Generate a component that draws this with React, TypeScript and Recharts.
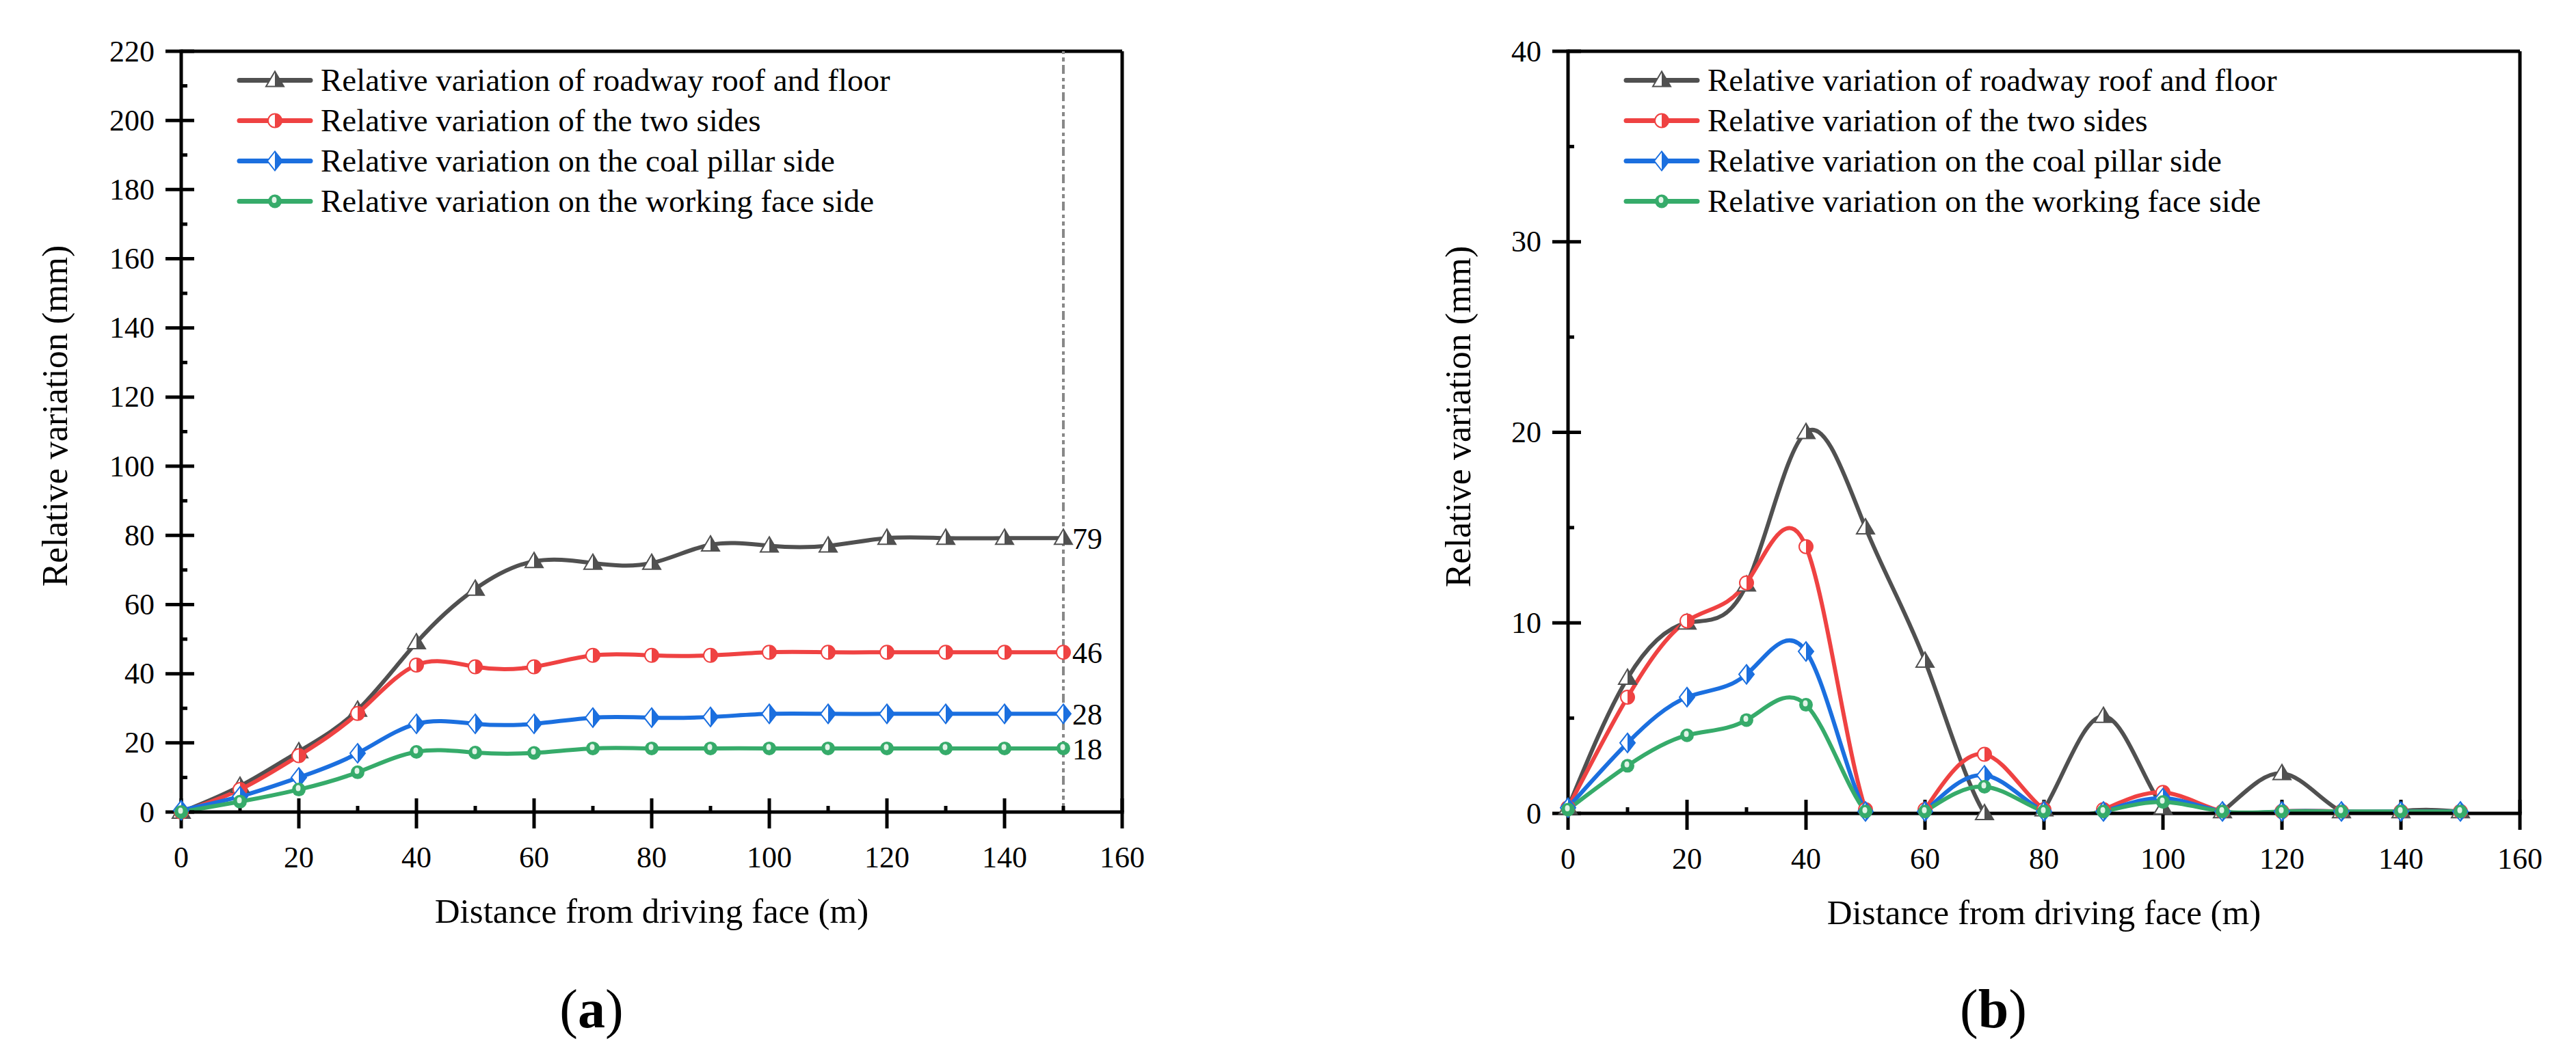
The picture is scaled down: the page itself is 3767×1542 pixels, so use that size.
import React from 'react';
import { LineChart, Line, XAxis, YAxis, ReferenceLine, ReferenceDot, Legend, Label } from 'recharts';

const FONT = '"Liberation Serif", "Times New Roman", serif';

// distance from driving face (m)
const distance = [0, 10, 20, 30, 40, 50, 60, 70, 80, 90, 100, 110, 120, 130, 140, 150];
const xTicks = [0, 10, 20, 30, 40, 50, 60, 70, 80, 90, 100, 110, 120, 130, 140, 150, 160];

// (a) relative variation (mm)
const roofFloorA = [0, 7.5, 17.5, 29.5, 49, 64.5, 72.5, 72, 72, 77.3, 77, 77, 79.2, 79.2, 79.2, 79.2];
const twoSidesA = [0, 6.5, 16.3, 28.5, 42.5, 42, 42, 45.3, 45.3, 45.3, 46.2, 46.2, 46.2, 46.2, 46.2, 46.2];
const pillarSideA = [0.5, 4.5, 10, 17, 25.5, 25.5, 25.5, 27.3, 27.3, 27.5, 28.4, 28.4, 28.4, 28.4, 28.4, 28.4];
const faceSideA = [0, 3, 6.5, 11.5, 17.4, 17.2, 17.1, 18.4, 18.4, 18.4, 18.4, 18.4, 18.4, 18.4, 18.4, 18.4];
const yTicksA = [0, 10, 20, 30, 40, 50, 60, 70, 80, 90, 100, 110, 120, 130, 140, 150, 160, 170, 180, 190, 200, 210, 220];

// (b) relative variation (mm)
const roofFloorB = [0.3, 7.1, 10, 12, 20, 15, 8, 0, 0.2, 5.1, 0.3, 0.1, 2.1, 0.1, 0.1, 0.1];
const twoSidesB = [0.3, 6.1, 10.1, 12.1, 14, 0.2, 0.2, 3.1, 0.2, 0.2, 1.1, 0.1, 0.1, 0.1, 0.1, 0.1];
const pillarSideB = [0.3, 3.7, 6.1, 7.3, 8.5, 0.1, 0.1, 2, 0.1, 0.1, 0.8, 0.1, 0.1, 0.1, 0.1, 0.1];
const faceSideB = [0.2, 2.5, 4.1, 4.9, 5.7, 0.1, 0.1, 1.4, 0.1, 0.1, 0.6, 0.1, 0.1, 0.1, 0.1, 0.1];
const yTicksB = [0, 5, 10, 15, 20, 25, 30, 35, 40];

const series = [
  { key: 'roof', name: 'Relative variation of roadway roof and floor', color: '#505050', marker: 'triangle' },
  { key: 'sides', name: 'Relative variation of the two sides', color: '#ef4242', marker: 'halfCircle' },
  { key: 'pillar', name: 'Relative variation on the coal pillar side', color: '#1b6fdf', marker: 'diamond' },
  { key: 'face', name: 'Relative variation on the working face side', color: '#36ab6a', marker: 'ball' },
];

const rowsA = distance.map((d, i) => ({ d, roof: roofFloorA[i], sides: twoSidesA[i], pillar: pillarSideA[i], face: faceSideA[i] }));
const rowsB = distance.map((d, i) => ({ d, roof: roofFloorB[i], sides: twoSidesB[i], pillar: pillarSideB[i], face: faceSideB[i] }));

const CHART_H = 1420;
const Y_AXIS_W = 120;
const X_AXIS_H = 100;
const axisStyle = { stroke: '#000', strokeWidth: 5, strokeLinecap: 'square' as const };

function Marker({ cx, cy, kind, color }: { cx: number; cy: number; kind: string; color: string }) {
  if (kind === 'triangle') {
    return (
      <g>
        <path d={`M${cx} ${cy - 13} L${cx - 13} ${cy + 9} L${cx} ${cy + 9} Z`} fill="#fff" />
        <path d={`M${cx} ${cy - 13} L${cx} ${cy + 9} L${cx + 13} ${cy + 9} Z`} fill={color} />
        <path d={`M${cx} ${cy - 13} L${cx - 13} ${cy + 9} L${cx + 13} ${cy + 9} Z`} fill="none" stroke={color} strokeWidth={2} />
      </g>
    );
  }
  if (kind === 'halfCircle') {
    const r = 10;
    return (
      <g>
        <circle cx={cx} cy={cy} r={r} fill="#fff" stroke={color} strokeWidth={2} />
        <path d={`M${cx} ${cy - r} A${r} ${r} 0 0 1 ${cx} ${cy + r} Z`} fill={color} />
      </g>
    );
  }
  if (kind === 'diamond') {
    return (
      <g>
        <path d={`M${cx} ${cy - 14} L${cx - 11} ${cy} L${cx} ${cy + 14} L${cx + 11} ${cy} Z`} fill="#fff" stroke={color} strokeWidth={2} />
        <path d={`M${cx} ${cy - 14} L${cx + 11} ${cy} L${cx} ${cy + 14} Z`} fill={color} />
      </g>
    );
  }
  return (
    <g>
      <circle cx={cx} cy={cy} r={10} fill={color} />
      <ellipse cx={cx - 1} cy={cy - 2} rx={3.5} ry={4.5} fill="#e2f4e8" />
    </g>
  );
}

const XTick = (props: any) => {
  const { x, y, payload } = props;
  const major = payload.value % 20 === 0;
  return (
    <g>
      <line x1={x} x2={x} y1={major ? y - 22 : y - 11} y2={major ? y + 22 : y} stroke="#000" strokeWidth={5} />
      {major && (
        <text x={x} y={y + 79} textAnchor="middle" fontSize={44} fontFamily={FONT} fill="#000">
          {payload.value}
        </text>
      )}
    </g>
  );
};

const makeYTick = (labelStep: number) => (props: any) => {
  const { x, y, payload } = props;
  const major = payload.value % labelStep === 0;
  return (
    <g>
      <line x1={major ? x - 21 : x} x2={major ? x + 21 : x + 11} y1={y} y2={y} stroke="#000" strokeWidth={5} />
      {major && (
        <text x={x - 37} y={y + 14.5} textAnchor="end" fontSize={44} fontFamily={FONT} fill="#000">
          {payload.value}
        </text>
      )}
    </g>
  );
};

const makeYTitle = (gap: number) => (props: any) => {
  const vb = props.viewBox || {};
  const cx = vb.x + vb.width - gap;
  const cy = vb.y + vb.height / 2 - 23;
  return (
    <text x={cx} y={cy} transform={`rotate(-90 ${cx} ${cy})`} textAnchor="middle" dominantBaseline="central" fontSize={52} fontFamily={FONT} fill="#000">
      Relative variation (mm)
    </text>
  );
};

const LegendBox = () => (
  <div style={{ fontFamily: FONT, fontSize: 47, color: '#000' }}>
    {series.map((s) => (
      <div key={s.key} style={{ display: 'flex', alignItems: 'center', height: 59 }}>
        <svg width={112} height={59} style={{ overflow: 'visible' }}>
          <line x1={4} x2={108} y1={29.5} y2={29.5} stroke={s.color} strokeWidth={7} strokeLinecap="round" />
          <Marker cx={56} cy={29.5} kind={s.marker} color={s.color} />
        </svg>
        <span style={{ marginLeft: 11, whiteSpace: 'nowrap', lineHeight: '59px' }}>{s.name}</span>
      </div>
    ))}
  </div>
);

type PanelProps = {
  left: number;
  width: number;
  margin: { top: number; right: number; bottom: number; left: number };
  rows: any[];
  yMax: number;
  yTicks: number[];
  yLabelStep: number;
  yTitleGap: number;
  endMarks: boolean;
};

function Panel({ left, width, margin, rows, yMax, yTicks, yLabelStep, yTitleGap, endMarks }: PanelProps) {
  const overlayMargin = { top: margin.top, right: margin.right, left: margin.left + Y_AXIS_W, bottom: margin.bottom + X_AXIS_H };
  const last = rows[rows.length - 1];
  return (
    <div style={{ position: 'absolute', left, top: 0, width, height: CHART_H }}>
      <div style={{ position: 'absolute', left: 0, top: 0 }}>
        <LineChart width={width} height={CHART_H} data={rows} margin={margin}>
          <XAxis
            type="number"
            dataKey="d"
            domain={[0, 160]}
            ticks={xTicks}
            interval={0}
            tickSize={0}
            tickLine={false}
            tick={<XTick />}
            axisLine={axisStyle}
            height={X_AXIS_H}
            allowDataOverflow
          >
            <Label value="Distance from driving face (m)" position="bottom" offset={26} fontSize={51} fill="#000" fontFamily={FONT} />
          </XAxis>
          <YAxis
            type="number"
            domain={[0, yMax]}
            ticks={yTicks}
            interval={0}
            tickSize={0}
            tickLine={false}
            tick={makeYTick(yLabelStep)}
            axisLine={axisStyle}
            width={Y_AXIS_W}
            allowDataOverflow
          >
            <Label content={makeYTitle(yTitleGap)} />
          </YAxis>
          <ReferenceLine y={yMax} stroke="#000" strokeWidth={5} />
          <ReferenceLine x={160} stroke="#000" strokeWidth={5} />
          {endMarks && <ReferenceLine x={150} stroke="#888" strokeWidth={4} strokeDasharray="13 5 6 5 5 6" />}
          {series.map((s) => (
            <Line key={s.key} dataKey={s.key} type="natural" stroke={s.color} strokeWidth={6} dot={false} activeDot={false} isAnimationActive={false} />
          ))}
        </LineChart>
      </div>
      <div style={{ position: 'absolute', left: 0, top: 0, pointerEvents: 'none' }}>
        <LineChart width={width} height={CHART_H} data={rows} margin={overlayMargin}>
          <XAxis hide type="number" dataKey="d" domain={[0, 160]} />
          <YAxis hide type="number" domain={[0, yMax]} />
          {series.map((s) => (
            <Line
              key={s.key}
              dataKey={s.key}
              stroke="none"
              activeDot={false}
              isAnimationActive={false}
              dot={(p: any) => (
                <g key={`${s.key}-${p.index}`}>
                  <Marker cx={p.cx} cy={p.cy} kind={s.marker} color={s.color} />
                </g>
              )}
            />
          ))}
          {endMarks &&
            series.map((s) => (
              <ReferenceDot
                key={`end-${s.key}`}
                x={last.d}
                y={last[s.key]}
                r={1}
                fill="none"
                stroke="none"
                label={{ value: String(Math.round(last[s.key])), position: 'right', offset: 12, fontSize: 44, fill: '#000', fontFamily: FONT }}
              />
            ))}
          <Legend
            layout="vertical"
            verticalAlign="middle"
            align="center"
            content={<LegendBox />}
            wrapperStyle={{ left: overlayMargin.left + 81, top: 88, width: 'auto' }}
          />
        </LineChart>
      </div>
    </div>
  );
}

export default function App() {
  return (
    <div style={{ position: 'relative', width: 3767, height: 1542, background: '#fff', overflow: 'hidden', fontFamily: FONT }}>
      <style>{'body{margin:0;background:#fff}'}</style>
      <Panel
        left={0}
        width={1700}
        margin={{ top: 75, right: 59, left: 145, bottom: 132 }}
        rows={rowsA}
        yMax={220}
        yTicks={yTicksA}
        yLabelStep={20}
        yTitleGap={185}
        endMarks
      />
      <Panel
        left={2050}
        width={1717}
        margin={{ top: 75, right: 82, left: 123, bottom: 130 }}
        rows={rowsB}
        yMax={40}
        yTicks={yTicksB}
        yLabelStep={10}
        yTitleGap={161}
        endMarks={false}
      />
      <div style={{ position: 'absolute', left: 865, top: 1436, transform: 'translateX(-50%)', fontSize: 80, lineHeight: 1, whiteSpace: 'nowrap' }}>
        (<b>a</b>)
      </div>
      <div style={{ position: 'absolute', left: 2915, top: 1436, transform: 'translateX(-50%)', fontSize: 80, lineHeight: 1, whiteSpace: 'nowrap' }}>
        (<b>b</b>)
      </div>
    </div>
  );
}
